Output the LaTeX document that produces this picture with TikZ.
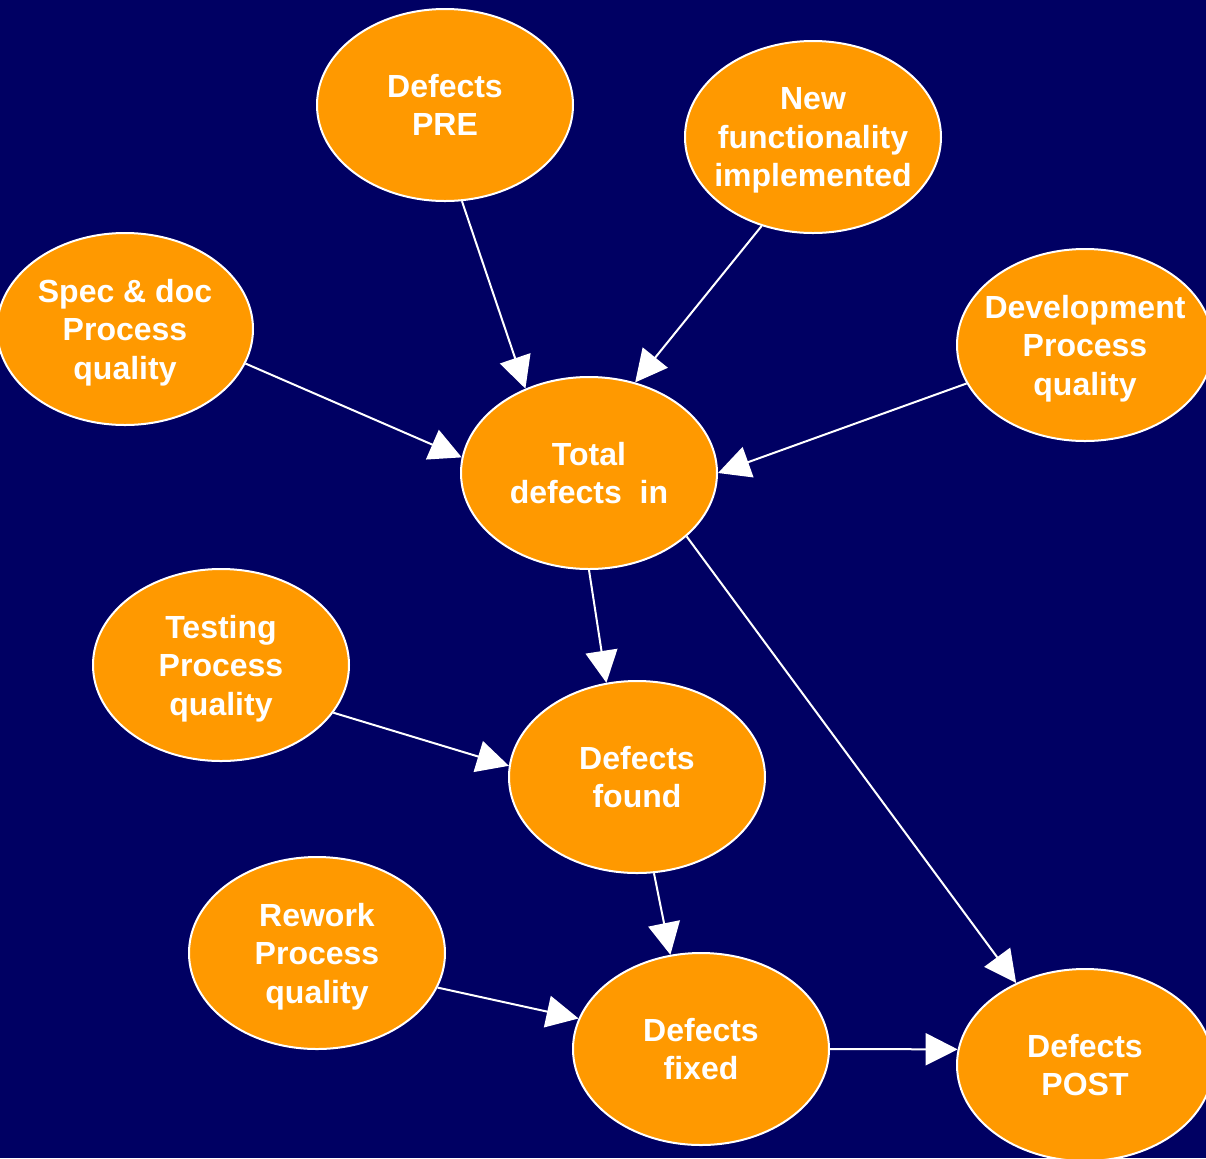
\documentclass[tikz,border=0pt]{standalone}
\usepackage{fontspec}
\setmainfont{Liberation Sans}
\usetikzlibrary{shapes.geometric,arrows.meta}
\definecolor{bgblue}{RGB}{0,0,99}
\definecolor{blobfill}{RGB}{255,153,0}
\begin{document}
\begin{tikzpicture}[x=0.5pt,y=-0.5pt,>={Triangle[length=16pt,width=16pt]},
    every edge/.style={draw=white,line width=1pt},
    main node/.style={ellipse,draw=white,fill=blobfill,line width=1pt,text=white,
        minimum width=128pt,minimum height=96pt,inner xsep=-20pt,inner ysep=0pt,
        text depth=0pt,align=center,font=\fontsize{16}{19.3}\selectfont\bfseries}]
                \path[use as bounding box,fill=bgblue] (0,0) rectangle (1206,1158);
                \node[main node] at (445, 105) (pre) {Defects\\PRE};
                \node[main node] at (813, 137) (new) {New\\functionality\\implemented};
                \node[main node] at (125, 329) (spec) {Spec \& doc\\Process\\quality};
                \node[main node] at (1085, 345) (dev) {Development\\Process\\quality};
                \node[main node] at (589, 473) (tot) {Total\\defects\ \ in};
                \node[main node] at (221, 665) (test) {Testing\\Process\\quality};
                \node[main node] at (637, 777) (found) {Defects\\found};
                \node[main node] at (317, 953) (rework) {Rework\\Process\\quality};
                \node[main node] at (701, 1049) (fixed) {Defects\\fixed};
                \node[main node] at (1085, 1065) (post) {Defects\\POST};

                \path[->] (pre.-80) edge (tot.127);
                \path[->] (new.240) edge (tot.63);
                \path[->] (spec.-16) edge (tot.173);
                \path[->] (dev.198) edge (tot.0);

                \path[->] (tot.-90) edge (found.108);
                \path[->] (tot.-33) edge (post.130);
                \path[->] (test.-23) edge (found.175);
                \path[->] (found.-80) edge (fixed.108);
                \path[->] (rework.-16) edge (fixed.166);
                \path[->] (fixed.0) edge (post.173);
            \end{tikzpicture}
\end{document}
